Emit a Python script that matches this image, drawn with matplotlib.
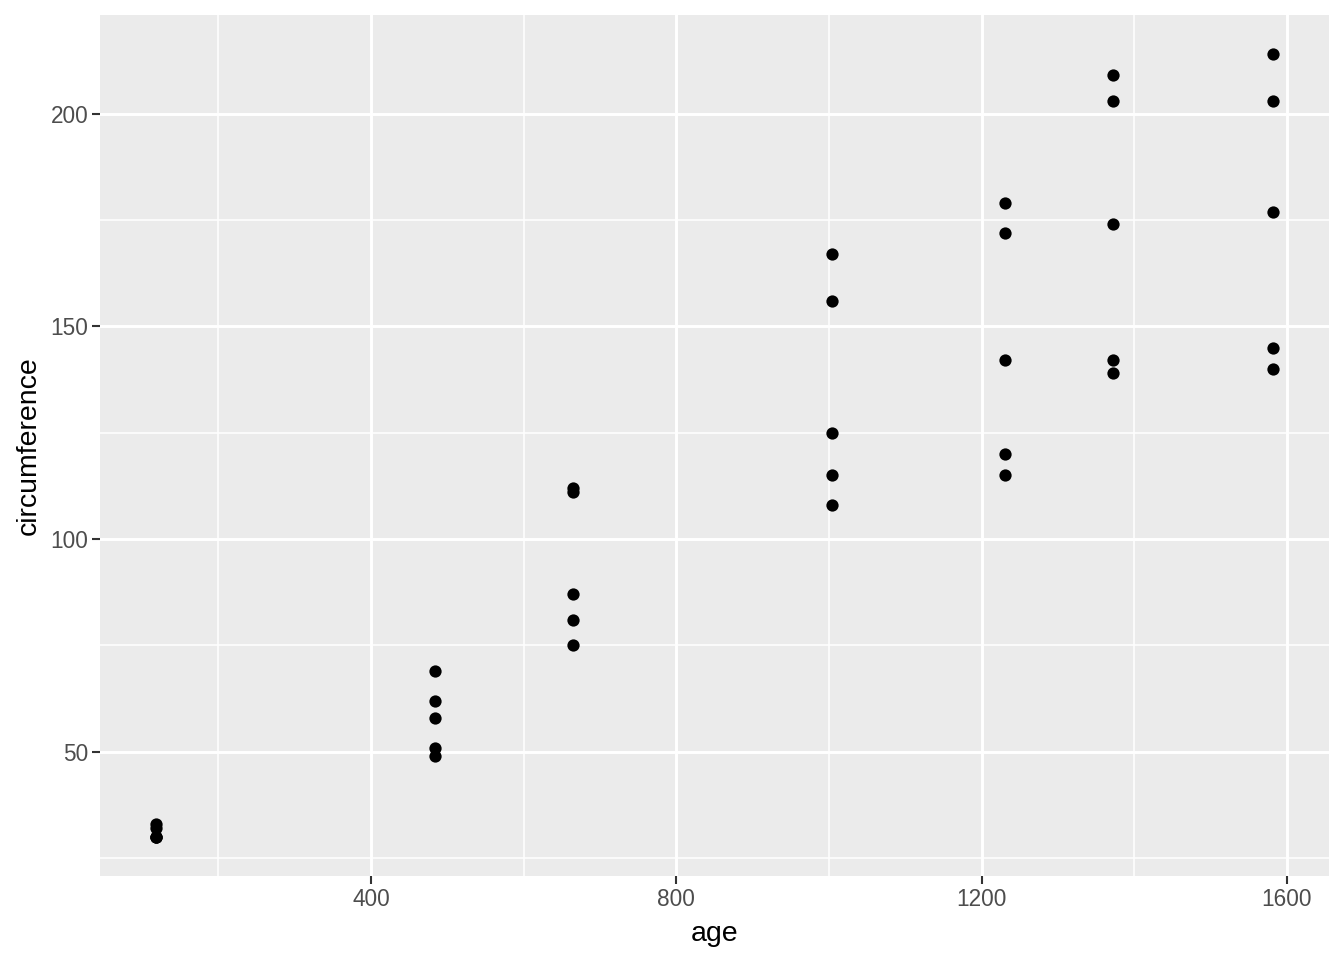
import matplotlib
matplotlib.use("Agg")
import matplotlib.pyplot as plt
from matplotlib.ticker import FixedLocator

plt.rcParams['font.family'] = ['Liberation Sans', 'DejaVu Sans']

# Orange trees: age (days) and circumference (mm), one list per tree
age = [118, 484, 664, 1004, 1231, 1372, 1582]
tree1 = [30, 58, 87, 115, 120, 142, 145]
tree2 = [33, 69, 111, 156, 172, 203, 203]
tree3 = [30, 51, 75, 108, 115, 139, 140]
tree4 = [32, 62, 112, 167, 179, 209, 214]
tree5 = [30, 49, 81, 125, 142, 174, 177]
trees = [tree1, tree2, tree3, tree4, tree5]

fig = plt.figure(figsize=(13.44, 9.6), dpi=100)
ax = fig.add_axes([100 / 1344, 84 / 960, 1229 / 1344, 861 / 960])
ax.set_facecolor('#EBEBEB')

for t in trees:
    ax.scatter(age, t, s=78, color='black', linewidths=0, zorder=3)

xs = [a for t in trees for a in age]
ys = [v for t in trees for v in t]
xr = max(xs) - min(xs)
yr = max(ys) - min(ys)
ax.set_xlim(min(xs) - 0.05 * xr, max(xs) + 0.05 * xr)
ax.set_ylim(min(ys) - 0.05 * yr, max(ys) + 0.05 * yr)

ax.xaxis.set_major_locator(FixedLocator([400, 800, 1200, 1600]))
ax.xaxis.set_minor_locator(FixedLocator([200, 600, 1000, 1400]))
ax.yaxis.set_major_locator(FixedLocator([50, 100, 150, 200]))
ax.yaxis.set_minor_locator(FixedLocator([25, 75, 125, 175]))

ax.grid(which='major', color='white', linewidth=2.1)
ax.grid(which='minor', color='white', linewidth=1.1)
ax.set_axisbelow(True)

for s in ax.spines.values():
    s.set_visible(False)

ax.tick_params(which='major', length=5.5, width=1.5, color='#333333',
               labelsize=16.3, labelcolor='#4D4D4D', pad=3)
ax.tick_params(which='minor', length=0)

ax.set_xlabel('age', fontsize=20.5, labelpad=7)
ax.set_ylabel('circumference', fontsize=20.5, labelpad=6)

fig.savefig('out.png', dpi=100)
